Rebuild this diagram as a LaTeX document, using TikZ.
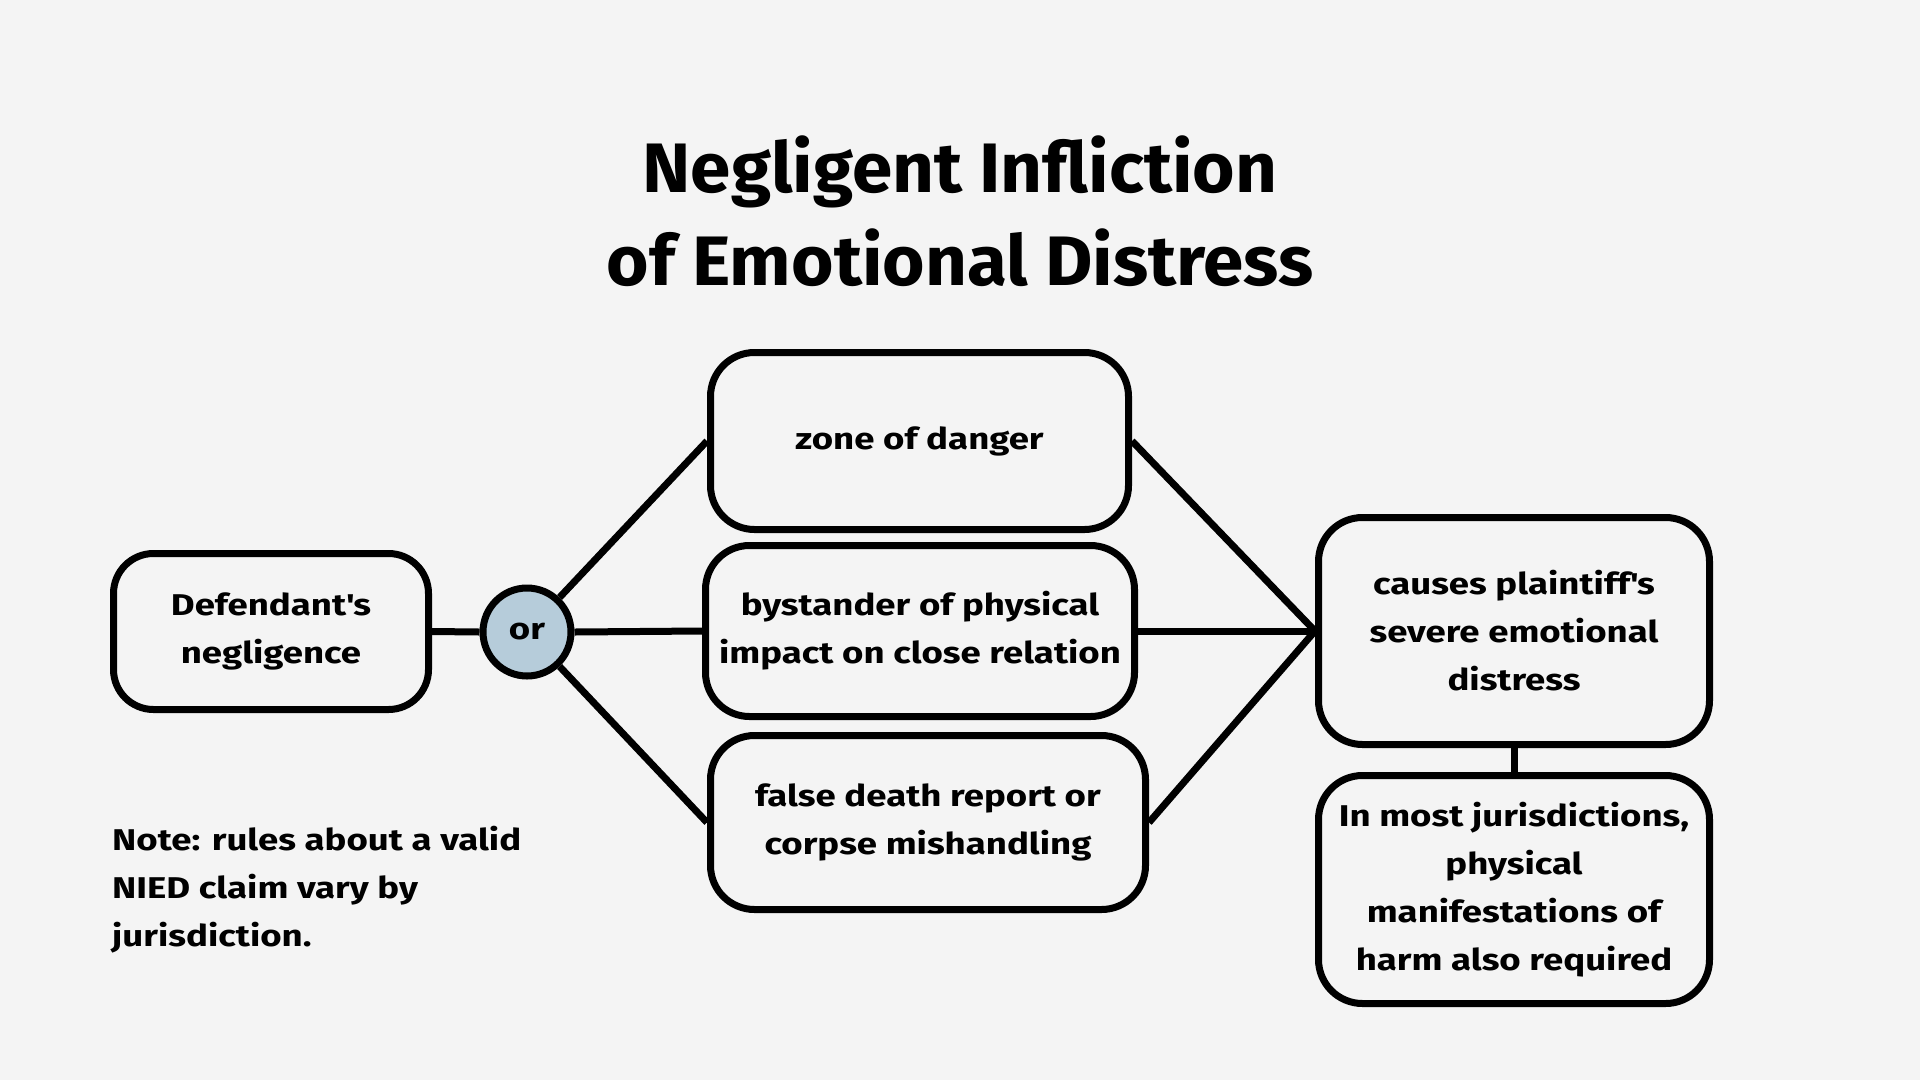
\documentclass[tikz,border=0pt]{standalone}
\usepackage{fontspec}
\setmainfont{Fira Sans}
\newfontfamily\bodyfont[FakeStretch=1.22]{Fira Sans}
\newfontfamily\titlefont[FakeStretch=1.04]{Fira Sans}
\newcommand{\apos}{\textquotesingle}
\begin{document}
\begin{tikzpicture}[x=1pt,y=-1pt,
  every node/.style={font=\bodyfont\bfseries\fontsize{30}{48}\selectfont, text=black},
  box/.style={draw=black, line width=7pt, rounded corners=44pt, fill=bgc, align=center, inner sep=0pt},
  conn/.style={draw=black, line width=7pt},
]
\definecolor{bgc}{HTML}{F4F4F4}
\definecolor{orfill}{HTML}{B6CCDA}
\fill[bgc] (0,0) rectangle (1920,1080);
\useasboundingbox (0,0) rectangle (1920,1080);

\node[font=\titlefont\bfseries\fontsize{70}{93}\selectfont, align=center] (title) at (960,211) {Negligent Infliction\\of Emotional Distress};

\node[box, minimum width=315pt, minimum height=156pt, rounded corners=40pt] (def) at (271,631.5) {Defendant\apos s\\negligence};
\node[draw=black, line width=7pt, circle, fill=orfill, minimum size=88pt, inner sep=0pt] (or) at (527,632) {or};
\node[box, minimum width=418pt, minimum height=177pt] (zone) at (919.5,441) {zone of danger};
\node[box, minimum width=429pt, minimum height=171pt] (bys) at (920,631) {bystander of physical\\impact on close relation};
\node[box, minimum width=435pt, minimum height=174pt] (false) at (928,822.5) {false death report or\\corpse mishandling};
\node[box, minimum width=391pt, minimum height=227pt] (causes) at (1514,631) {causes plaintiff\apos s\\severe emotional\\distress};
\node[box, minimum width=391pt, minimum height=228pt] (most) at (1514,889.5) {In most jurisdictions,\\physical\\manifestations of\\harm also required};

\node[align=left, anchor=west, inner sep=0pt] (note) at (112,890) {Note: rules about a valid\\NIED claim vary by\\jurisdiction.};

\draw[conn] (def.east) -- (or.west);
\draw[conn] (or) -- (zone.west);
\draw[conn] (or.east) -- (bys.west);
\draw[conn] (or) -- (false.west);
\draw[conn] (zone.east) -- (causes.west);
\draw[conn] (bys.east) -- (causes.west);
\draw[conn] (false.east) -- (causes.west);
\draw[conn] (causes.south) -- (most.north);
\end{tikzpicture}
\end{document}
